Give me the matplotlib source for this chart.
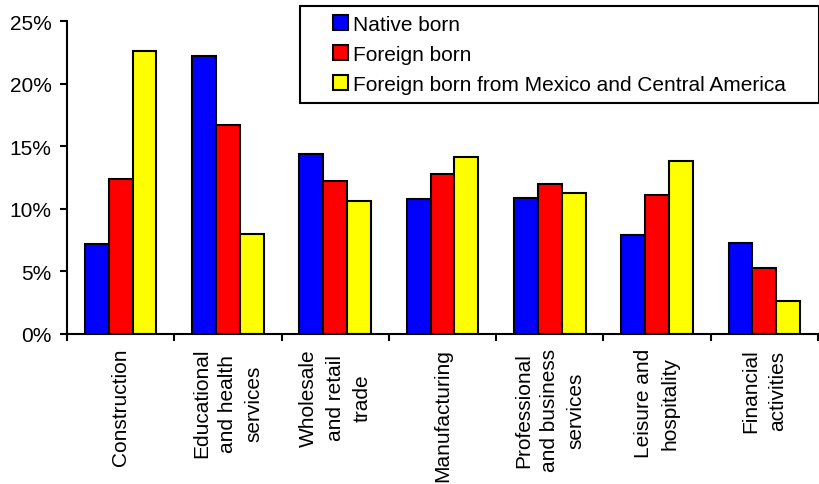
import matplotlib
matplotlib.use("Agg")
import matplotlib.pyplot as plt
import numpy as np
from matplotlib.patches import Rectangle
from matplotlib.ticker import FixedLocator, FuncFormatter

plt.rcParams['font.family'] = ['Liberation Sans', 'DejaVu Sans']

# share of workers by industry (%)
industries = ['Construction', 'Educational\nand health\nservices', 'Wholesale\nand retail\ntrade',
              'Manufacturing', 'Professional\nand business\nservices', 'Leisure and\nhospitality',
              'Financial\nactivities']
native = [7.2, 22.2, 14.4, 10.8, 10.9, 7.9, 7.3]
foreign = [12.4, 16.7, 12.2, 12.8, 12.0, 11.1, 5.3]
mex_ca = [22.6, 8.0, 10.6, 14.1, 11.3, 13.8, 2.6]
series_names = ['Native born', 'Foreign born', 'Foreign born from Mexico and Central America']
colors = ['#0000ff', '#ff0000', '#ffff00']

W, H = 820, 485
fig = plt.figure(figsize=(W / 100, H / 100), dpi=100)
ax = fig.add_axes([67 / W, 1 - 335 / H, (818 - 67) / W, (335 - 22) / H])

x = np.arange(len(industries))
bw = 0.222
handles = []
for k, (vals, c, name) in enumerate(zip([native, foreign, mex_ca], colors, series_names)):
    b = ax.bar(x + (k - 1) * bw, vals, bw, color=c, edgecolor='black', linewidth=1.5,
               label=name, zorder=2)
    handles.append(b)

ax.set_xlim(-0.5, len(industries) - 0.5)
ax.set_ylim(0, 25)
ax.set_yticks(np.arange(0, 26, 5))
ax.yaxis.set_major_formatter(FuncFormatter(lambda v, p: f"{v:.0f}%"))

# ticks between categories, labels at the centres
ax.xaxis.set_major_locator(FixedLocator(np.arange(-0.5, len(industries), 1)))
ax.xaxis.set_major_formatter(FuncFormatter(lambda v, p: ""))
ax.xaxis.set_minor_locator(FixedLocator(x))
ax.set_xticklabels(industries, minor=True, rotation=90, va='top', ha='center',
                   multialignment='center', fontsize=15, linespacing=1.5)
ax.tick_params(axis='x', which='minor', length=0, pad=10)
ax.tick_params(axis='x', which='major', length=5, width=1.5, direction='out')
ax.tick_params(axis='y', length=5, width=1.5, direction='out', pad=6, labelsize=15)

for s in ['top', 'right']:
    ax.spines[s].set_visible(False)
for s in ['left', 'bottom']:
    ax.spines[s].set_linewidth(1.5)

# legend box
fig.add_artist(Rectangle((300 / W, 1 - 104 / H), 519 / W, 97 / H, transform=fig.transFigure,
                         facecolor='white', edgecolor='black', linewidth=1.5, zorder=3))
fig.legend(handles=handles, loc='upper left', bbox_to_anchor=(333 / W, 1 - 16 / H),
           frameon=False, fontsize=15, borderpad=0, borderaxespad=0,
           handlelength=0.72, handleheight=0.72, handletextpad=0.25, labelspacing=0.52)

fig.savefig('out.png', dpi=100)
